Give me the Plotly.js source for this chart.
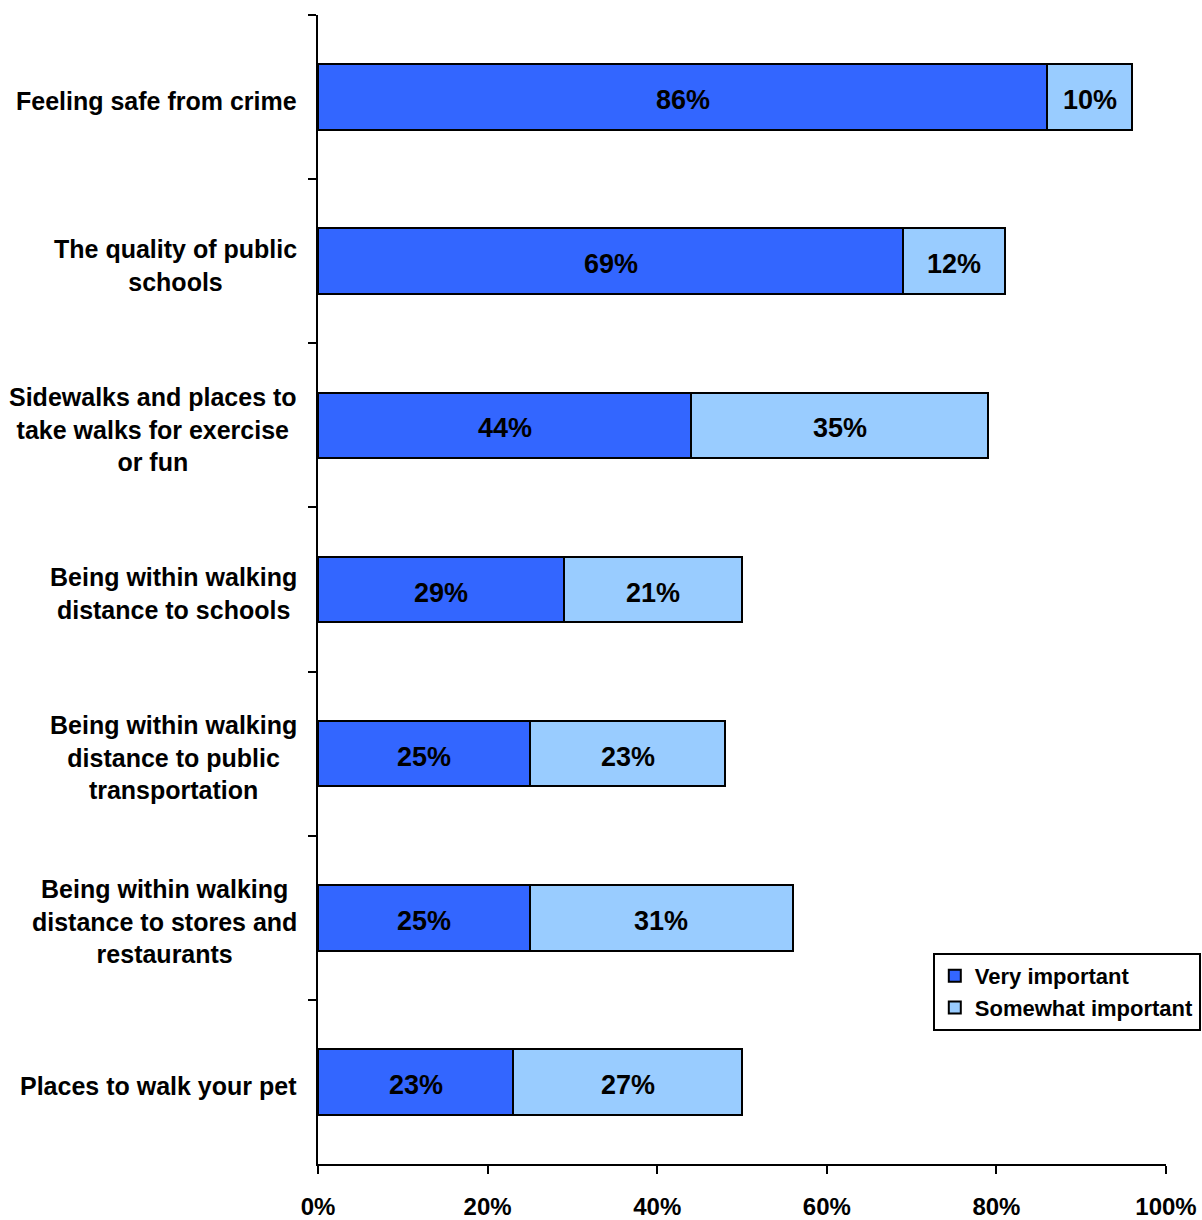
<!DOCTYPE html>
<html>
<head>
<meta charset="utf-8">
<script src="https://cdn.plot.ly/plotly-3.0.1.min.js"></script>
<style>html,body{margin:0;padding:0;background:#fff;}#chart{width:1202px;height:1220px;}</style>
</head>
<body>
<div id="chart"></div>
<script>
var categories = [
  "Feeling safe from crime",
  "The quality of public<br>schools",
  "Sidewalks and places to<br>take walks for exercise<br>or fun",
  "Being within walking<br>distance to schools",
  "Being within walking<br>distance to public<br>transportation",
  "Being within walking<br>distance to stores and<br>restaurants",
  "Places to walk your pet"
];
var veryImportant = [86, 69, 44, 29, 25, 25, 23];
var somewhatImportant = [10, 12, 35, 21, 23, 31, 27];
var seriesNames = ["Very important", "Somewhat important"];
var xTickVals = [0, 20, 40, 60, 80, 100];
var xTickText = ["0%", "20%", "40%", "60%", "80%", "100%"];

var FONT = "'Liberation Sans', Arial, Helvetica, sans-serif";

function barTrace(name, vals, color) {
  return {
    type: "bar",
    orientation: "h",
    name: name,
    y: categories,
    x: vals,
    marker: {color: color, line: {color: "#000", width: 2}},
    hoverinfo: "skip"
  };
}

var data = [
  barTrace(seriesNames[0], veryImportant, "#3366FF"),
  barTrace(seriesNames[1], somewhatImportant, "#99CCFF")
];

var annotations = [];
categories.forEach(function (c, i) {
  annotations.push({
    xref: "paper", yref: "y",
    x: 0, y: c,
    xanchor: "right", yanchor: "middle",
    xshift: -19, yshift: -4,
    align: "center",
    showarrow: false,
    text: c,
    font: {family: FONT, size: 25, color: "#000", weight: "bold"}
  });
  var v = veryImportant[i], s = somewhatImportant[i];
  annotations.push({
    xref: "x", yref: "y", x: v / 2, y: c,
    xanchor: "center", yanchor: "middle", yshift: -3,
    showarrow: false, text: v + "%",
    font: {family: FONT, size: 27, color: "#000", weight: "bold"}
  });
  annotations.push({
    xref: "x", yref: "y", x: v + s / 2, y: c,
    xanchor: "center", yanchor: "middle", yshift: -3,
    showarrow: false, text: s + "%",
    font: {family: FONT, size: 27, color: "#000", weight: "bold"}
  });
});

var layout = {
  width: 1202, height: 1220,
  margin: {l: 318, r: 36, t: 15, b: 56, autoexpand: false},
  paper_bgcolor: "#fff", plot_bgcolor: "#fff",
  font: {family: FONT, color: "#000"},
  barmode: "stack",
  bargap: 0.6,
  showlegend: true,
  legend: {
    x: 0.725, y: 0.1836, xanchor: "left", yanchor: "top",
    bgcolor: "#fff", bordercolor: "#000", borderwidth: 2,
    traceorder: "normal",
    font: {family: FONT, size: 22, color: "#000", weight: "bold"}
  },
  xaxis: {
    range: [0, 100],
    tickvals: xTickVals, ticktext: xTickText,
    ticks: "outside", ticklen: 8, tickwidth: 2, tickcolor: "#000",
    showline: true, linecolor: "#000", linewidth: 2,
    showgrid: false, zeroline: false,
    ticklabelstandoff: 12,
    tickfont: {family: FONT, size: 24, color: "#000", weight: "bold"},
    fixedrange: true
  },
  yaxis: {
    type: "category",
    categoryorder: "array", categoryarray: categories,
    autorange: "reversed",
    showticklabels: false,
    tickson: "boundaries",
    ticks: "outside", ticklen: 8, tickwidth: 2, tickcolor: "#000",
    showline: true, linecolor: "#000", linewidth: 2,
    showgrid: false, zeroline: false,
    fixedrange: true
  },
  annotations: annotations
};

Plotly.newPlot("chart", data, layout, {displayModeBar: false, staticPlot: true});
</script>
</body>
</html>
